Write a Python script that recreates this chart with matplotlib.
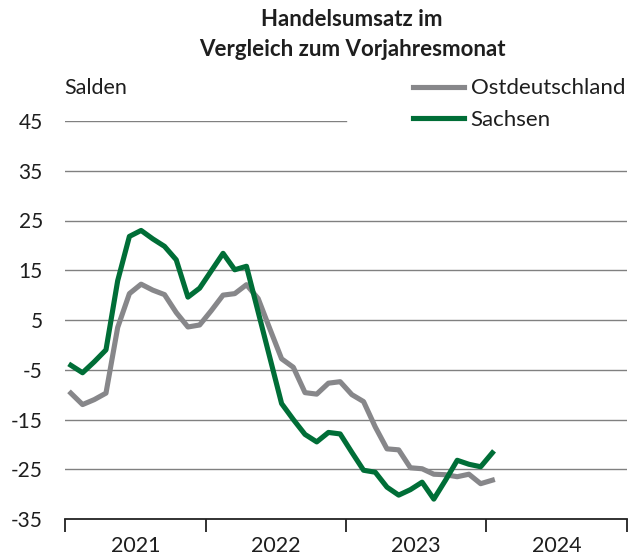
import numpy as np
import matplotlib.pyplot as plt

# DATEN (Salden, monatlich Jan 2021 - Jan 2024)

ostdeutschland = [-9.7, -12.0, -11.0, -9.7, 3.5, 10.3, 12.2, 11.0, 10.1, 6.5, 3.6, 4.0,
                  6.9, 10.0, 10.3, 12.1, 9.3, 3.2, -2.8, -4.5, -9.6, -9.9, -7.7, -7.4,
                  -10.0, -11.4, -16.5, -20.9, -21.1, -24.7, -24.9, -26.0, -26.1, -26.5, -26.0, -27.9,
                  -27.2]
sachsen = [-4.1, -5.6, -3.4, -1.0, 12.9, 21.8, 23.0, 21.3, 19.8, 17.1, 9.6, 11.4,
           14.9, 18.4, 15.1, 15.8, 6.6, -2.6, -11.8, -15.0, -18.0, -19.5, -17.6, -17.9,
           -21.6, -25.2, -25.6, -28.6, -30.2, -29.1, -27.6, -31.0, -27.2, -23.2, -24.0, -24.5,
           -21.7]
jahre = ['2021', '2022', '2023', '2024']
y_ticks = [45, 35, 25, 15, 5, -5, -15, -25, -35]

GRAU = '#87878a'
GRUEN = '#006e37'
TEXT = '#1e1e1e'

plt.rcParams['font.family'] = ['Lato', 'DejaVu Sans']

fig = plt.figure(figsize=(6.38, 5.56), dpi=100)
ax = fig.add_axes([65 / 638, 1 - 519 / 556, 562 / 638, 398 / 556])

monate = np.arange(len(sachsen)) + 0.5

# gitterlinien; oben nur halb (legende)
for v in y_ticks[1:-1]:
    ax.axhline(v, color='#808080', lw=1, zorder=1)
ax.axhline(45, xmax=0.5, color='#808080', lw=1, zorder=1)

ax.plot(monate, ostdeutschland, color=GRAU, lw=3.7, label='Ostdeutschland', zorder=3)
ax.plot(monate, sachsen, color=GRUEN, lw=3.7, label='Sachsen', zorder=4)

ax.set_xlim(0, 48)
ax.set_ylim(-35, 45)

ax.set_yticks(y_ticks)
ax.set_yticklabels([str(v) for v in y_ticks])
ax.tick_params(axis='y', length=0, pad=16, labelsize=15, labelcolor=TEXT)

ax.set_xticks([0, 12, 24, 36, 48])
ax.set_xticklabels([])
ax.set_xticks([6, 18, 30, 42], minor=True)
ax.set_xticklabels(jahre, minor=True)
ax.tick_params(axis='x', which='major', length=9, width=1.3, color='#222222', direction='out')
ax.tick_params(axis='x', which='minor', length=0, pad=12.5, labelsize=15.5, labelcolor=TEXT)

for s in ['top', 'right', 'left']:
    ax.spines[s].set_visible(False)
ax.spines['bottom'].set_color('#222222')
ax.spines['bottom'].set_linewidth(1.3)

fig.text(352 / 638, 1 - 20 / 556, 'Handelsumsatz im', ha='center', va='center',
         fontsize=16, fontweight='bold', color=TEXT)
fig.text(352 / 638, 1 - 50 / 556, 'Vergleich zum Vorjahresmonat', ha='center', va='center',
         fontsize=16, fontweight='bold', color=TEXT)
fig.text(64 / 638, 1 - 88 / 556, 'Salden', ha='left', va='center', fontsize=15.5, color=TEXT)

ax.legend(loc='center left', bbox_to_anchor=(413 / 638, 1 - 104 / 556),
          bbox_transform=fig.transFigure, frameon=False, fontsize=16,
          handlelength=2.3, handletextpad=0.3, labelspacing=0.5,
          borderpad=0, borderaxespad=0, labelcolor=TEXT)

plt.savefig('out.png', dpi=100)
